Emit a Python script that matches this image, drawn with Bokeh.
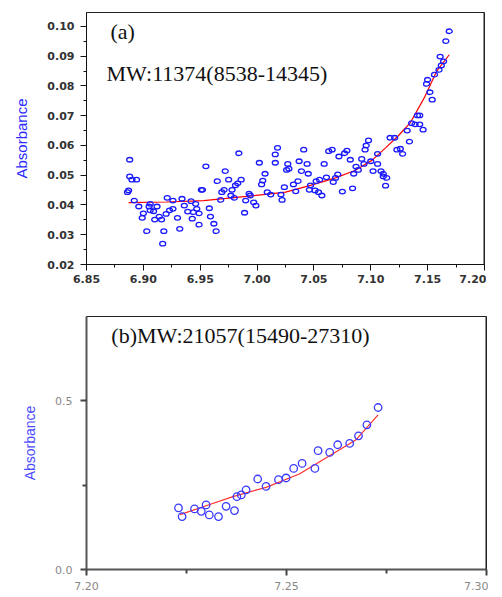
from bokeh.plotting import figure
from bokeh.layouts import column
from bokeh.models import FixedTicker, PrintfTickFormatter, Label, Span
from bokeh.embed import file_html
from bokeh.resources import INLINE

# ---------------- data: panel (a) ----------------
a_x = [6.888, 6.888, 6.890, 6.894, 6.886, 6.887, 6.892, 6.896, 6.900, 6.899,
       6.903, 6.905, 6.906, 6.906, 6.909, 6.912, 6.910, 6.914, 6.916, 6.918,
       6.917, 6.920, 6.921, 6.923, 6.926, 6.926, 6.930, 6.932, 6.934, 6.936,
       6.939, 6.942, 6.943, 6.944, 6.946, 6.947, 6.949, 6.949, 6.951, 6.952,
       6.955, 6.958, 6.959, 6.962, 6.964, 6.965, 6.968, 6.969, 6.971, 6.972,
       6.975, 6.977, 6.978, 6.980, 6.981, 6.983, 6.984, 6.986, 6.989, 6.990,
       6.993, 6.994, 6.997, 6.999, 7.002, 7.004, 7.005, 7.007, 7.009, 7.012,
       7.016, 7.016, 7.018, 7.021, 7.022, 7.024, 7.026, 7.027,
       7.028, 7.032, 7.034, 7.036, 7.037, 7.039, 7.041, 7.044, 7.045, 7.047,
       7.046, 7.051, 7.052, 7.055, 7.054, 7.057, 7.059, 7.061, 7.063, 7.066,
       7.067, 7.069, 7.071, 7.072, 7.075, 7.077, 7.079, 7.082, 7.084, 7.085,
       7.087, 7.089, 7.092, 7.094, 7.095, 7.096, 7.098, 7.100, 7.102, 7.106,
       7.106, 7.109, 7.111, 7.111, 7.114, 7.113, 7.117, 7.121, 7.123, 7.126,
       7.128, 7.132, 7.134, 7.136, 7.139, 7.143, 7.146, 7.141, 7.143,
       7.169, 7.166, 7.161, 7.164, 7.162, 7.160, 7.156, 7.150, 7.149, 7.152,
       7.154]
a_y = [0.0552, 0.0496, 0.0485, 0.0485, 0.0443, 0.0449, 0.0415, 0.0395, 0.0372, 0.0357,
       0.0312, 0.0395, 0.0404, 0.0382, 0.0379, 0.0395, 0.0351, 0.0361, 0.0351, 0.0312,
       0.0270, 0.0370, 0.0424, 0.0382, 0.0387, 0.0415, 0.0357, 0.0320, 0.0421, 0.0398,
       0.0378, 0.0413, 0.0354, 0.0376, 0.0404, 0.0387, 0.0372, 0.0334, 0.0451, 0.0451,
       0.0530, 0.0389, 0.0361, 0.0337, 0.0312, 0.0480, 0.0417, 0.0443, 0.0451, 0.0514,
       0.0485, 0.0432, 0.0451, 0.0424, 0.0466, 0.0473, 0.0574, 0.0485, 0.0374, 0.0415,
       0.0438, 0.0432, 0.0409, 0.0398, 0.0542, 0.0469, 0.0482, 0.0505, 0.0443, 0.0435,
       0.0542, 0.0570, 0.0592, 0.0435, 0.0417, 0.0460, 0.0518, 0.0538,
       0.0522, 0.0469, 0.0446, 0.0480, 0.0547, 0.0514, 0.0586, 0.0538, 0.0505, 0.0466,
       0.0451, 0.0449, 0.0480, 0.0485, 0.0443, 0.0432, 0.0538, 0.0493, 0.0581, 0.0586,
       0.0477, 0.0491, 0.0503, 0.0563, 0.0445, 0.0574, 0.0583, 0.0552, 0.0456, 0.0505,
       0.0529, 0.0518, 0.0555, 0.0538, 0.0586, 0.0600, 0.0617, 0.0547, 0.0514, 0.0538,
       0.0572, 0.0514, 0.0505, 0.0496, 0.0491, 0.0465, 0.0626, 0.0626, 0.0586, 0.0589,
       0.0572, 0.0650, 0.0613, 0.0675, 0.0671, 0.0671, 0.0653, 0.0701, 0.0701,
       0.0984, 0.0951, 0.0899, 0.0883, 0.0869, 0.0854, 0.0838, 0.0821, 0.0807, 0.0779,
       0.0754]

a_fit_x = [6.887, 6.920, 6.953, 6.991, 7.025, 7.047, 7.069, 7.086, 7.101,
           7.113, 7.124, 7.135, 7.147, 7.158, 7.169]
a_fit_y = [0.0408, 0.0410, 0.0415, 0.0429, 0.0443, 0.0466, 0.0491, 0.0516, 0.0550,
           0.0592, 0.0632, 0.0678, 0.0760, 0.0850, 0.0905]

a_yticks = [0.02, 0.03, 0.04, 0.05, 0.06, 0.07, 0.08, 0.09, 0.10]
a_yminor = [0.025, 0.035, 0.045, 0.055, 0.065, 0.075, 0.085, 0.095]
a_xticks = [6.85, 6.90, 6.95, 7.00, 7.05, 7.10, 7.15, 7.20]
a_xminor = [6.875, 6.925, 6.975, 7.025, 7.075, 7.125, 7.175]

a_tag = "(a)"
a_text = "MW:11374(8538-14345)"

# ---------------- data: panel (b) ----------------
b_x = [7.2230, 7.2239, 7.2270, 7.2287, 7.2299, 7.2307, 7.2330, 7.2349, 7.2370,
       7.2376, 7.2387, 7.2399, 7.2428, 7.2449, 7.2480, 7.2499, 7.2518, 7.2539,
       7.2571, 7.2579, 7.2608, 7.2628, 7.2658, 7.2680, 7.2701, 7.2729]
b_y = [0.1825, 0.1568, 0.1796, 0.1725, 0.1914, 0.1618, 0.1568, 0.1873, 0.1746,
       0.2160, 0.2210, 0.2358, 0.2683, 0.2464, 0.2663, 0.2713, 0.2997, 0.3145,
       0.2997, 0.3521, 0.3470, 0.3698, 0.3737, 0.3964, 0.4290, 0.4802]

b_fit_x = [7.2234, 7.2299, 7.2366, 7.2449, 7.2532, 7.2615, 7.2673, 7.2729]
b_fit_y = [0.1627, 0.1890, 0.2160, 0.2435, 0.2831, 0.3422, 0.3837, 0.4586]

b_yticks = [0.0, 0.5]
b_yminor = [0.25]
b_xticks = [7.20, 7.25, 7.30]
b_xminor = [7.225, 7.275]

b_text = "(b)MW:21057(15490-27310)"

y_label = "Absorbance"

SERIF = "Liberation Serif"
SANS = "DejaVu Sans"


def style_common(p):
    p.xgrid.visible = False
    p.ygrid.visible = False
    p.background_fill_color = "white"
    p.border_fill_color = "white"
    p.outline_line_color = "#222222"
    p.outline_line_width = 1


# ---------------- panel (a) ----------------
pa = figure(width=486, height=294, x_range=(6.85, 7.20), y_range=(0.02, 0.1047),
            output_backend="svg", toolbar_location=None,
            min_border_left=86, min_border_right=2, min_border_top=12, min_border_bottom=30)
style_common(pa)

pa.line(a_fit_x, a_fit_y, line_color="#ff0000", line_width=1.2)
pa.ellipse(a_x, a_y, width=6, height=4.5, width_units="screen", height_units="screen",
           fill_color=None, line_color="#1a1aff", line_width=1.3)

pa.yaxis.ticker = FixedTicker(ticks=a_yticks, minor_ticks=a_yminor)
pa.xaxis.ticker = FixedTicker(ticks=a_xticks, minor_ticks=a_xminor)
pa.yaxis.formatter = PrintfTickFormatter(format="%.2f")
pa.xaxis.formatter = PrintfTickFormatter(format="%.2f")
for ax in (pa.xaxis[0], pa.yaxis[0]):
    ax.axis_line_color = "#111111"
    ax.axis_line_width = 1
    ax.major_tick_line_color = "#111111"
    ax.minor_tick_line_color = "#111111"
    ax.major_tick_in = 0
    ax.major_tick_out = 6
    ax.minor_tick_in = 0
    ax.minor_tick_out = 3
    ax.major_label_text_font = SANS
    ax.major_label_text_font_size = "11px"
    ax.major_label_text_color = "#333333"
    ax.major_label_text_font_style = "bold"
pa.yaxis.major_label_standoff = 6
pa.xaxis.major_label_standoff = 4
pa.yaxis.axis_label = y_label
pa.yaxis.axis_label_text_font = "Liberation Sans"
pa.yaxis.axis_label_text_font_style = "normal"
pa.yaxis.axis_label_text_font_size = "15px"
pa.yaxis.axis_label_text_color = "#2a2aff"
pa.yaxis.axis_label_standoff = 14
pa.add_layout(Span(location=7.20, dimension="height", line_color="#222222", line_width=2))

pa.add_layout(Label(x=6.871, y=0.0983, text=a_tag, text_font=SERIF, text_font_size="22px",
                    text_baseline="middle", text_color="#111111"))
pa.add_layout(Label(x=6.8676, y=0.0842, text=a_text, text_font=SERIF, text_font_size="22px",
                    text_baseline="middle", text_color="#111111"))

# ---------------- panel (b) ----------------
pb = figure(width=488, height=303, x_range=(7.20, 7.30), y_range=(0.0, 0.75),
            output_backend="svg", toolbar_location=None,
            min_border_left=85, min_border_right=2, min_border_top=22, min_border_bottom=28)
style_common(pb)

pb.line(b_fit_x, b_fit_y, line_color="#ff3030", line_width=1.2)
pb.scatter(b_x, b_y, marker="circle", size=7.5, fill_color=None,
           line_color="#3a3aff", line_width=1.3)

pb.yaxis.ticker = FixedTicker(ticks=b_yticks, minor_ticks=b_yminor)
pb.xaxis.ticker = FixedTicker(ticks=b_xticks, minor_ticks=b_xminor)
pb.yaxis.formatter = PrintfTickFormatter(format="%.1f")
pb.xaxis.formatter = PrintfTickFormatter(format="%.2f")
for ax in (pb.xaxis[0], pb.yaxis[0]):
    ax.axis_line_color = "#555555"
    ax.axis_line_width = 2
    ax.major_tick_line_color = "#444444"
    ax.minor_tick_line_color = "#444444"
    ax.major_tick_line_width = 2
    ax.minor_tick_line_width = 2
    ax.major_tick_in = 0
    ax.major_tick_out = 6
    ax.minor_tick_in = 0
    ax.minor_tick_out = 4
    ax.major_label_text_font = SANS
    ax.major_label_text_font_size = "11px"
    ax.major_label_text_color = "#888888"
pb.yaxis.major_label_standoff = 8
pb.xaxis.major_label_standoff = 6
pb.yaxis.axis_label = y_label
pb.yaxis.axis_label_text_font = "Liberation Sans"
pb.yaxis.axis_label_text_font_style = "normal"
pb.yaxis.axis_label_text_font_size = "14px"
pb.yaxis.axis_label_text_color = "#4a4aff"
pb.yaxis.axis_label_standoff = 14
pb.add_layout(Span(location=7.30, dimension="height", line_color="#222222", line_width=2))

pb.add_layout(Label(x=7.2062, y=0.695, text=b_text, text_font=SERIF, text_font_size="22px",
                    text_baseline="middle", text_color="#111111"))

layout = column(pa, pb, spacing=0)
open("out.html", "w").write(file_html(layout, INLINE))
